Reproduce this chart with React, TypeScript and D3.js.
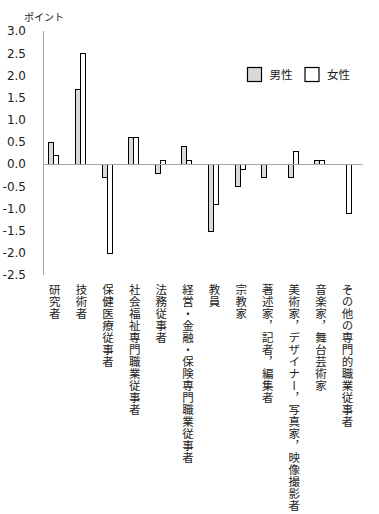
import React from "react";
import * as d3 from "d3";

const categories = [
  "研究者",
  "技術者",
  "保健医療従事者",
  "社会福祉専門職業従事者",
  "法務従事者",
  "経営・金融・保険専門職業従事者",
  "教員",
  "宗教家",
  "著述家，記者，編集者",
  "美術家，デザイナー，写真家，映像撮影者",
  "音楽家，舞台芸術家",
  "その他の専門的職業従事者",
];
const male = [0.5, 1.7, -0.3, 0.6, -0.2, 0.4, -1.5, -0.5, -0.3, -0.3, 0.1, 0.0];
const female = [0.2, 2.5, -2.0, 0.6, 0.1, 0.1, -0.9, -0.1, 0.0, 0.3, 0.1, -1.1];
const yTicks = [3.0, 2.5, 2.0, 1.5, 1.0, 0.5, 0.0, -0.5, -1.0, -1.5, -2.0, -2.5];
const seriesNames = ["男性", "女性"];
const seriesFill = ["#d9d9d9", "#ffffff"];

const W = 379;
const H = 514;
const jp = "'Noto Sans CJK JP', 'Noto Sans', sans-serif";

export default function App() {
  const x0 = d3.scaleBand<string>().domain(categories).range([43.3, 362.7]).padding(0);
  const y = d3.scaleLinear().domain([-2.5, 3.0]).range([275, 31]);
  const x1 = d3.scaleBand<string>().domain(seriesNames).range([-8.3, 1.7]).padding(0);
  const crisp = (v: number) => Math.round(v) + 0.5;
  const data = [male, female];
  const step = 12;

  return (
    <svg width={W} height={H} style={{ position: "absolute", left: 0, top: 0 }}>
      <rect width={W} height={H} fill="#fff" />
      <text x={24} y={21} fontFamily={jp} fontSize={10} fill="#222">ポイント</text>
      {yTicks.map((t) => (
        <text key={t} x={26} y={y(t)} dy="0.36em" textAnchor="end"
          fontFamily="'DejaVu Sans', sans-serif" fontSize={12} fill="#222">
          {t.toFixed(1)}
        </text>
      ))}
      {categories.map((c, i) => {
        const cx = (x0(c) as number) + x0.bandwidth() / 2;
        return (
          <g key={c}>
            {data.map((s, k) => {
              const v = s[i];
              const xl = crisp(cx + (x1(seriesNames[k]) as number));
              const xr = crisp(cx + (x1(seriesNames[k]) as number) + x1.bandwidth());
              const y0 = y(0);
              const yv = y(v);
              const top = crisp(Math.min(y0, yv));
              const bot = crisp(Math.max(y0, yv));
              return (
                <rect key={k} x={xl} y={top} width={xr - xl} height={bot - top}
                  fill={seriesFill[k]} stroke="#000" strokeWidth={1} />
              );
            })}
            {Array.from(c).map((ch, j) => (
              <text key={j} x={cx - 1.8} y={283.5 + j * step} fontFamily={jp} fontSize={11.5} fill="#222"
                style={{ writingMode: "vertical-rl" as any }}>
                {ch}
              </text>
            ))}
          </g>
        );
      })}
      <line x1={43.5} x2={43.5} y1={31} y2={275} stroke="#a6a6a6" strokeWidth={1} />
      <line x1={43} x2={362.7} y1={crisp(y(0))} y2={crisp(y(0))} stroke="#a6a6a6" strokeWidth={1} />
      {seriesNames.map((n, k) => {
        const lx = [247, 304.5][k];
        return (
          <g key={n}>
            <rect x={lx + 0.5} y={67.5} width={14} height={14} fill={seriesFill[k]} stroke="#000" strokeWidth={1.2} />
            <text x={lx + 22.5} y={75} dy="0.36em" fontFamily={jp} fontSize={11.5} fill="#222">{n}</text>
          </g>
        );
      })}
    </svg>
  );
}
